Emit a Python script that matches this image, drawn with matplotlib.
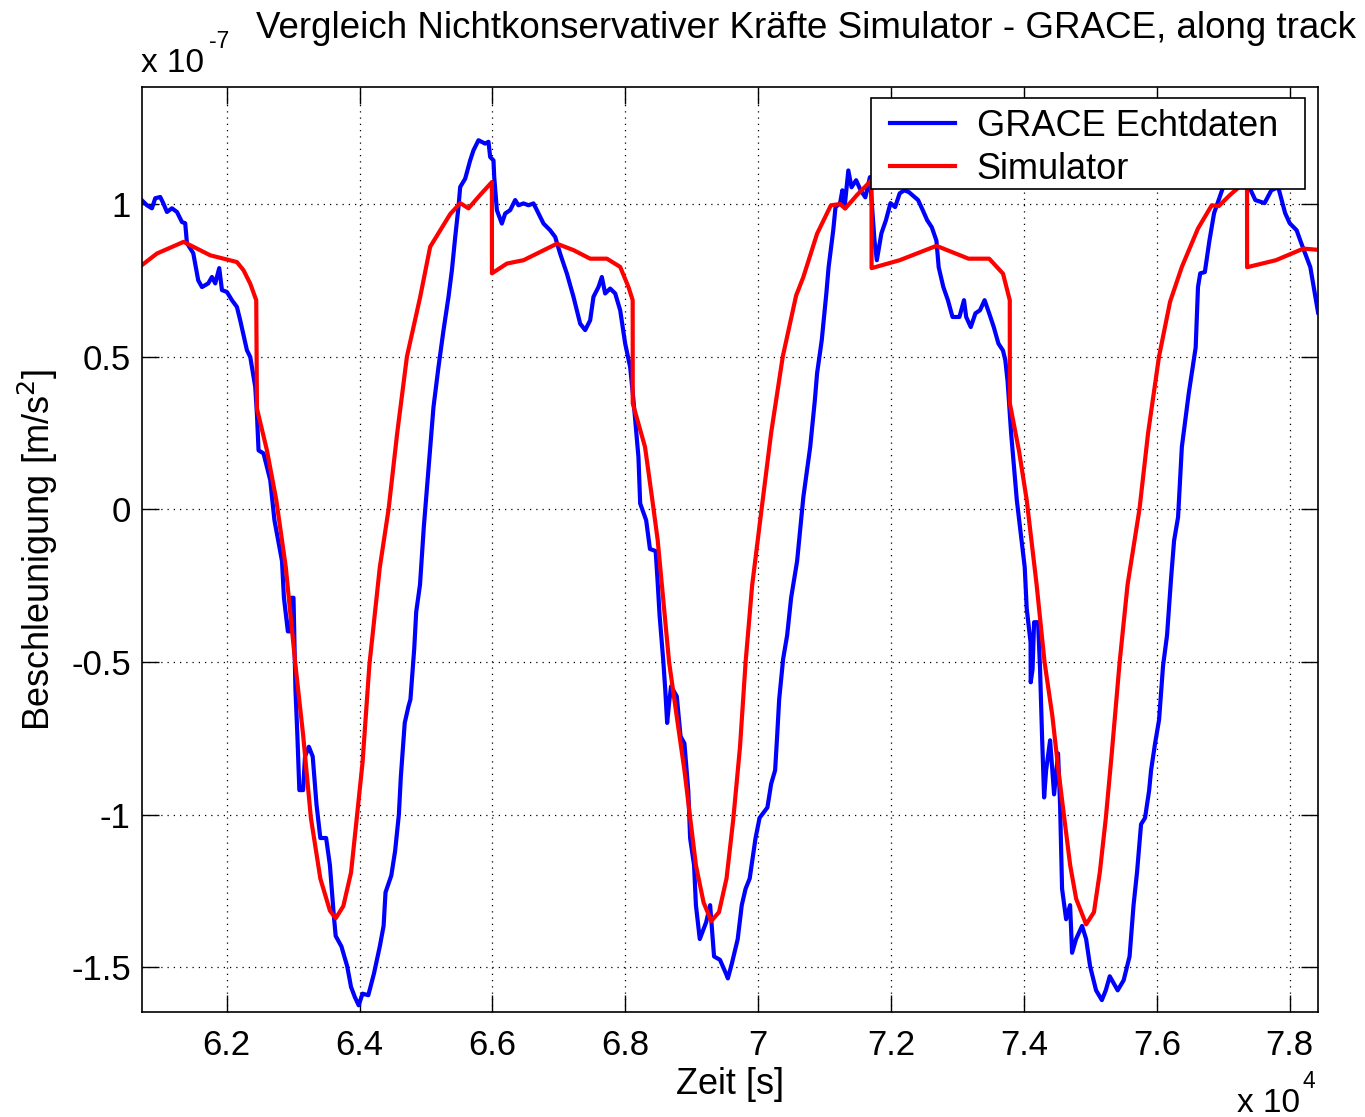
import matplotlib
matplotlib.use('Agg')
import matplotlib.pyplot as plt
from matplotlib.patches import Rectangle

# time in units of 1e4 s, acceleration in units of 1e-7 m/s^2
grace_t = [6.0724, 6.0799, 6.0874, 6.0924, 6.0999, 6.1044, 6.1100, 6.1175, 6.1251, 6.1326,
           6.1375, 6.1401, 6.1496, 6.1571, 6.1627, 6.1722, 6.1777, 6.1827, 6.1887, 6.1928,
           6.2003, 6.2078, 6.2153, 6.2203, 6.2304, 6.2354, 6.2429, 6.2454, 6.2479, 6.2554,
           6.2655, 6.2718, 6.2832, 6.2861, 6.2920, 6.2963, 6.2971, 6.3005, 6.3034, 6.3062,
           6.3093, 6.3150, 6.3178, 6.3236, 6.3294, 6.3351, 6.3409, 6.3496, 6.3553, 6.3612,
           6.3640, 6.3726, 6.3813, 6.3871, 6.3928, 6.3986, 6.4044, 6.4131, 6.4217, 6.4304,
           6.4361, 6.4390, 6.4477, 6.4534, 6.4591, 6.4620, 6.4679, 6.4736, 6.4765, 6.4822,
           6.4852, 6.4909, 6.4966, 6.5032, 6.5112, 6.5187, 6.5263, 6.5338, 6.5389, 6.5439,
           6.5488, 6.5514, 6.5589, 6.5664, 6.5714, 6.5789, 6.5890, 6.5940, 6.5965, 6.6015,
           6.6026, 6.6066, 6.6141, 6.6191, 6.6266, 6.6342, 6.6391, 6.6467, 6.6542, 6.6617,
           6.6668, 6.6768, 6.6868, 6.6944, 6.7019, 6.7120, 6.7219, 6.7320, 6.7395, 6.7470,
           6.7520, 6.7595, 6.7646, 6.7696, 6.7771, 6.7847, 6.7922, 6.7997, 6.8072, 6.8122,
           6.8197, 6.8223, 6.8313, 6.8370, 6.8456, 6.8485, 6.8515, 6.8572, 6.8600, 6.8629,
           6.8658, 6.8688, 6.8774, 6.8831, 6.8889, 6.8947, 6.8975, 6.9034, 6.9062, 6.9120,
           6.9216, 6.9276, 6.9335, 6.9424, 6.9512, 6.9543, 6.9603, 6.9691, 6.9752, 6.9810,
           6.9871, 6.9959, 7.0020, 7.0138, 7.0194, 7.0254, 7.0284, 7.0315, 7.0375, 7.0435,
           7.0495, 7.0585, 7.0646, 7.0679, 7.0782, 7.0852, 7.0886, 7.0956, 7.1025, 7.1059,
           7.1129, 7.1163, 7.1231, 7.1266, 7.1300, 7.1356, 7.1404, 7.1473, 7.1542, 7.1612,
           7.1681, 7.1750, 7.1785, 7.1854, 7.1922, 7.1991, 7.2060, 7.2129, 7.2199, 7.2268,
           7.2406, 7.2476, 7.2543, 7.2612, 7.2682, 7.2716, 7.2786, 7.2855, 7.2924, 7.3028,
           7.3097, 7.3130, 7.3199, 7.3269, 7.3338, 7.3407, 7.3476, 7.3545, 7.3615, 7.3684,
           7.3719, 7.3753, 7.3806, 7.3892, 7.3952, 7.4011, 7.4041, 7.4099, 7.4101, 7.4129,
           7.4152, 7.4212, 7.4242, 7.4272, 7.4303, 7.4333, 7.4393, 7.4453, 7.4513, 7.4543,
           7.4573, 7.4634, 7.4694, 7.4724, 7.4784, 7.4874, 7.4935, 7.4995, 7.5085, 7.5172,
           7.5231, 7.5291, 7.5351, 7.5410, 7.5500, 7.5589, 7.5649, 7.5702, 7.5762, 7.5822,
           7.5883, 7.5913, 7.5973, 7.6033, 7.6093, 7.6153, 7.6214, 7.6259, 7.6319, 7.6376,
           7.6480, 7.6584, 7.6619, 7.6653, 7.6722, 7.6791, 7.6861, 7.6930, 7.6997, 7.7102,
           7.7222, 7.7327, 7.7413, 7.7482, 7.7621, 7.7723, 7.7827, 7.7931, 7.8000, 7.8104,
           7.8173, 7.8310, 7.8426]
grace_a = [1.012, 0.996, 0.986, 1.019, 1.023, 1.003, 0.974, 0.986, 0.974, 0.941,
           0.937, 0.872, 0.839, 0.750, 0.728, 0.740, 0.761, 0.740, 0.790, 0.718,
           0.712, 0.685, 0.663, 0.619, 0.521, 0.499, 0.401, 0.314, 0.193, 0.183,
           0.095, -0.036, -0.170, -0.290, -0.400, -0.400, -0.290, -0.290, -0.590, -0.734,
           -0.920, -0.920, -0.810, -0.778, -0.810, -0.967, -1.077, -1.077, -1.166, -1.332,
           -1.398, -1.432, -1.497, -1.565, -1.598, -1.625, -1.587, -1.592, -1.520, -1.432,
           -1.365, -1.255, -1.200, -1.120, -1.000, -0.878, -0.700, -0.645, -0.623, -0.457,
           -0.336, -0.247, -0.059, 0.118, 0.335, 0.466, 0.587, 0.696, 0.783, 0.892,
           0.990, 1.056, 1.083, 1.143, 1.176, 1.209, 1.198, 1.204, 1.154, 1.143,
           1.089, 0.980, 0.936, 0.969, 0.980, 1.013, 0.996, 1.002, 0.996, 1.002,
           0.980, 0.936, 0.914, 0.892, 0.837, 0.772, 0.696, 0.608, 0.587, 0.619,
           0.696, 0.728, 0.761, 0.707, 0.723, 0.707, 0.652, 0.543, 0.466, 0.357,
           0.171, 0.019, -0.036, -0.130, -0.137, -0.235, -0.347, -0.500, -0.590, -0.700,
           -0.635, -0.580, -0.613, -0.744, -0.767, -0.922, -1.078, -1.166, -1.297, -1.408,
           -1.353, -1.297, -1.465, -1.476, -1.520, -1.537, -1.488, -1.408, -1.297, -1.243,
           -1.210, -1.078, -1.011, -0.977, -0.900, -0.855, -0.745, -0.623, -0.490, -0.413,
           -0.290, -0.170, -0.036, 0.040, 0.204, 0.357, 0.446, 0.554, 0.707, 0.793,
           0.914, 0.990, 1.002, 1.045, 0.990, 1.110, 1.055, 1.078, 1.045, 1.022,
           1.088, 0.880, 0.816, 0.904, 0.947, 1.003, 0.990, 1.035, 1.045, 1.039,
           1.013, 0.980, 0.947, 0.924, 0.880, 0.793, 0.728, 0.685, 0.630, 0.630,
           0.685, 0.630, 0.597, 0.642, 0.652, 0.685, 0.642, 0.597, 0.543, 0.520,
           0.488, 0.420, 0.250, 0.030, -0.080, -0.190, -0.325, -0.436, -0.567, -0.524,
           -0.370, -0.370, -0.524, -0.745, -0.944, -0.855, -0.757, -0.934, -0.800, -0.967,
           -1.243, -1.343, -1.297, -1.453, -1.408, -1.365, -1.408, -1.497, -1.576, -1.608,
           -1.576, -1.530, -1.553, -1.576, -1.543, -1.465, -1.297, -1.188, -1.032, -1.011,
           -0.922, -0.855, -0.767, -0.690, -0.513, -0.413, -0.226, -0.103, -0.026, 0.204,
           0.380, 0.530, 0.728, 0.773, 0.777, 0.880, 0.970, 1.013, 1.055, 1.100,
           1.090, 1.060, 1.045, 1.013, 1.003, 1.045, 1.055, 0.970, 0.937, 0.914,
           0.872, 0.793, 0.645]

sim_t = [6.0724, 6.0950, 6.1350, 6.1552, 6.1752, 6.1952, 6.2153, 6.2253, 6.2354, 6.2444,
         6.2455, 6.2605, 6.2746, 6.2889, 6.3034, 6.3150, 6.3266, 6.3409, 6.3553, 6.3640,
         6.3755, 6.3871, 6.3958, 6.4044, 6.4147, 6.4304, 6.4436, 6.4566, 6.4712, 6.4912,
         6.5062, 6.5363, 6.5514, 6.5639, 6.5815, 6.5991, 6.5992, 6.6217, 6.6467, 6.6718,
         6.6969, 6.7219, 6.7470, 6.7722, 6.7922, 6.8047, 6.8110, 6.8111, 6.8296, 6.8400,
         6.8486, 6.8572, 6.8658, 6.8774, 6.8889, 6.8975, 6.9062, 6.9177, 6.9293, 6.9409,
         6.9523, 6.9622, 6.9725, 6.9810, 6.9908, 7.0050, 7.0194, 7.0369, 7.0570, 7.0679,
         7.0886, 7.1094, 7.1233, 7.1308, 7.1488, 7.1705, 7.1706, 7.2129, 7.2682, 7.3165,
         7.3476, 7.3684, 7.3786, 7.3787, 7.3926, 7.4041, 7.4190, 7.4309, 7.4427, 7.4518,
         7.4606, 7.4695, 7.4785, 7.4935, 7.5053, 7.5142, 7.5232, 7.5321, 7.5440, 7.5559,
         7.5738, 7.5868, 7.6032, 7.6199, 7.6376, 7.6619, 7.6826, 7.6930, 7.7102, 7.7357,
         7.7358, 7.7792, 7.8206, 7.8426]
sim_a = [0.800, 0.838, 0.876, 0.854, 0.832, 0.821, 0.810, 0.783, 0.739, 0.685,
         0.330, 0.193, 0.030, -0.190, -0.510, -0.740, -1.010, -1.210, -1.315, -1.340,
         -1.300, -1.190, -1.010, -0.830, -0.510, -0.190, 0.000, 0.250, 0.500, 0.696,
         0.860, 0.967, 1.003, 0.986, 1.030, 1.072, 0.773, 0.805, 0.816, 0.843,
         0.870, 0.849, 0.821, 0.821, 0.794, 0.728, 0.685, 0.347, 0.204, 0.040,
         -0.100, -0.300, -0.500, -0.680, -0.855, -1.010, -1.166, -1.288, -1.349, -1.320,
         -1.209, -1.020, -0.780, -0.500, -0.250, 0.000, 0.250, 0.500, 0.700, 0.761,
         0.903, 0.996, 1.000, 0.985, 1.030, 1.078, 0.790, 0.816, 0.863, 0.821,
         0.821, 0.772, 0.685, 0.347, 0.190, 0.030, -0.247, -0.500, -0.677, -0.855,
         -1.011, -1.166, -1.276, -1.360, -1.320, -1.188, -1.011, -0.800, -0.500, -0.247,
         0.000, 0.250, 0.500, 0.680, 0.794, 0.920, 0.996, 0.993, 1.030, 1.078,
         0.793, 0.816, 0.854, 0.850]

xticks = [6.2, 6.4, 6.6, 6.8, 7.0, 7.2, 7.4, 7.6, 7.8]
xticklabels = ['6.2', '6.4', '6.6', '6.8', '7', '7.2', '7.4', '7.6', '7.8']
yticks = [-1.5, -1.0, -0.5, 0.0, 0.5, 1.0]
yticklabels = ['-1.5', '-1', '-0.5', '0', '0.5', '1']

plt.rcParams['font.family'] = ['Liberation Sans', 'DejaVu Sans']

fig = plt.figure(figsize=(13.65, 11.17), dpi=100)
ax = fig.add_axes([0.104, 0.094, 0.8616, 0.828])

ax.plot(grace_t, grace_a, color=(0, 0, 1), linewidth=3, label='GRACE Echtdaten')
ax.plot(sim_t, sim_a, color=(1, 0, 0), linewidth=3, label='Simulator')

ax.set_xlim(6.0724, 7.8426)
ax.set_ylim(-1.647, 1.383)
ax.set_xticks(xticks)
ax.set_xticklabels(xticklabels)
ax.set_yticks(yticks)
ax.set_yticklabels(yticklabels)
ax.tick_params(direction='in', length=12, width=1, top=True, right=True, labelsize=25)
ax.tick_params(axis='x', pad=12)
ax.tick_params(axis='y', pad=8)
ax.grid(True, color='black', linestyle=(0, (1, 4)), linewidth=0.9)
for s in ax.spines.values():
    s.set_linewidth(1.2)

ax.set_xlabel('Zeit [s]', fontsize=26, labelpad=4)
ax.set_ylabel('Beschleunigung [m/s$^2$]', fontsize=26, labelpad=8)

# legend box drawn separately so its size matches the MATLAB one
ax.add_patch(Rectangle((0.6199, 0.8897), 0.3691, 0.0984, transform=ax.transAxes,
                       facecolor='white', edgecolor='black', linewidth=1.2, zorder=4.5))
leg = ax.legend(loc='upper left', bbox_to_anchor=(0.636, 0.9765), borderaxespad=0,
                borderpad=0, fontsize=26, frameon=False,
                handlelength=1.8, handletextpad=0.6, labelspacing=0.22)
leg.set_zorder(5)

fig.text(0.5905, 0.966, 'Vergleich Nichtkonservativer Kräfte Simulator - GRACE, along track',
         ha='center', va='baseline', fontsize=26.5)
fig.text(0.1035, 0.9355, 'x 10', ha='left', va='baseline', fontsize=24)
fig.text(0.153, 0.957, '-7', ha='left', va='baseline', fontsize=16.5)
fig.text(0.9065, 0.0045, 'x 10', ha='left', va='baseline', fontsize=24)
fig.text(0.9545, 0.026, '4', ha='left', va='baseline', fontsize=16.5)

fig.savefig('out.png', dpi=100)
